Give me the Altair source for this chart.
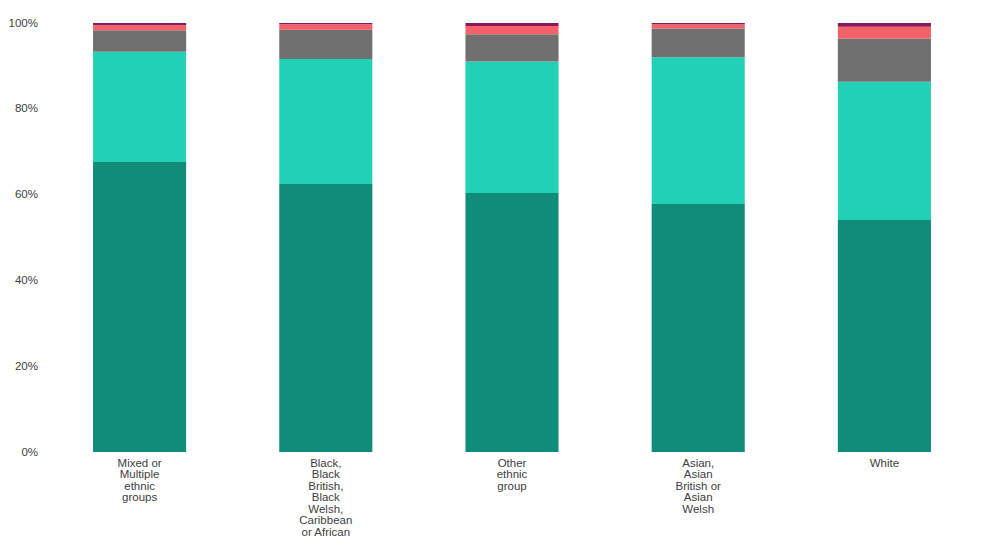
import pandas as pd
import altair as alt

# Groups along the x axis, wrapped labels use "|" as line break
groups = [
    "Mixed or|Multiple|ethnic|groups",
    "Black,|Black|British,|Black|Welsh,|Caribbean|or African",
    "Other|ethnic|group",
    "Asian,|Asian|British or|Asian|Welsh",
    "White",
]

# Stack segments, bottom to top
series = ["Very good", "Good", "Fair", "Bad", "Very bad"]
colors = ["#118c7b", "#22d0b6", "#707070", "#f66068", "#871a5b"]

# Percentages (one list per series, same order as groups)
very_good = [67.6, 62.5, 60.4, 57.8, 54.1]
good = [25.7, 29.1, 30.6, 34.2, 32.2]
fair = [5.0, 6.8, 6.4, 6.7, 10.1]
bad = [1.2, 1.3, 1.9, 1.0, 2.7]
very_bad = [0.5, 0.3, 0.7, 0.3, 0.9]

values = [very_good, good, fair, bad, very_bad]

rows = []
for si, (name, vals) in enumerate(zip(series, values)):
    for g, v in zip(groups, vals):
        rows.append({"group": g, "series": name, "idx": si, "pct": v})
df = pd.DataFrame(rows)

FONT = "Liberation Sans"

chart = (
    alt.Chart(df)
    .mark_bar()
    .encode(
        x=alt.X(
            "group:N",
            sort=groups,
            title=None,
            scale=alt.Scale(paddingInner=0.5, paddingOuter=0.25),
            axis=alt.Axis(
                labelAngle=0,
                labelExpr="split(datum.label, '|')",
                labelLineHeight=11.5,
                labelPadding=5,
                labelBaseline="top",
                ticks=False,
                domain=False,
                labelFontSize=11.5,
                labelColor="#404040",
                labelFont=FONT,
            ),
        ),
        y=alt.Y(
            "pct:Q",
            stack="normalize",
            title=None,
            axis=alt.Axis(
                format=".0%",
                tickCount=5,
                grid=False,
                ticks=False,
                domain=False,
                labelPadding=9,
                labelFontSize=11.5,
                labelColor="#404040",
                labelFont=FONT,
            ),
        ),
        color=alt.Color(
            "series:N",
            sort=series,
            scale=alt.Scale(domain=series, range=colors),
            legend=None,
        ),
        order=alt.Order("idx:Q", sort="ascending"),
        tooltip=["group:N", "series:N", "pct:Q"],
    )
    .properties(
        width=931,
        height=429,
        background="white",
        autosize=alt.AutoSizeParams(type="none"),
        padding={"left": 38.5, "top": 15, "right": 0, "bottom": 90},
    )
    .configure_view(stroke="transparent", strokeWidth=0)
)

chart.save("out.html", embed_options={"renderer": "svg", "actions": False})
